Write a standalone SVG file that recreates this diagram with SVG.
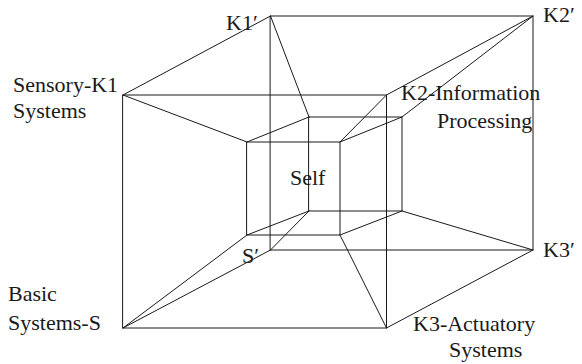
<svg xmlns="http://www.w3.org/2000/svg" width="582" height="364" viewBox="0 0 582 364">
<style>
.e{stroke:#1a1a1a;stroke-width:1;fill:none;stroke-linecap:round;stroke-linejoin:round}
text{font-family:'Liberation Serif','DejaVu Serif',serif;font-size:22px;fill:#1a1a1a}
</style>
<rect width="582" height="364" fill="#fff"/>
<g id="connectors">
<path class="e" d="M123,95 H386.5 V328 H123 Z"/>
<path class="e" d="M270.5,16 H533 V250 H270.5 Z"/>
<path class="e" d="M123,95 L270.5,16 M386.5,95 L533,16 M386.5,328 L533,250 M123,328 L270.5,250"/>
<path class="e" d="M247,142 H340 V235 H247 Z"/>
<path class="e" d="M309,117 H402 V211 H309 Z"/>
<path class="e" d="M247,142 L309,117 M340,142 L402,117 M340,235 L402,211 M247,235 L309,211"/>
<path class="e" d="M123,95 L247,142 M386.5,95 L340,142 M386.5,328 L340,235 M123,328 L247,235"/>
<path class="e" d="M270.5,16 L309,117 M533,16 L402,117 M533,250 L402,211 M270.5,250 L309,211"/>
</g>
<g id="sensory"><text x="13" y="92">Sensory-K1</text><text x="13" y="118">Systems</text></g>
<g id="basic"><text x="8" y="301">Basic</text><text x="8" y="330">Systems-S</text></g>
<g id="k2"><text x="401" y="100">K2-Information</text><text x="437" y="127.5">Processing</text></g>
<g id="k3"><text x="413" y="330.5">K3-Actuatory</text><text x="449" y="356.5">Systems</text></g>
<g id="k1p"><text x="226" y="29.5">K1′</text></g>
<g id="k2p"><text x="543" y="21.5">K2′</text></g>
<g id="k3p"><text x="543" y="256.5">K3′</text></g>
<g id="sp"><text x="242" y="263">S′</text></g>
<g id="self"><text x="290" y="185">Self</text></g>
</svg>
